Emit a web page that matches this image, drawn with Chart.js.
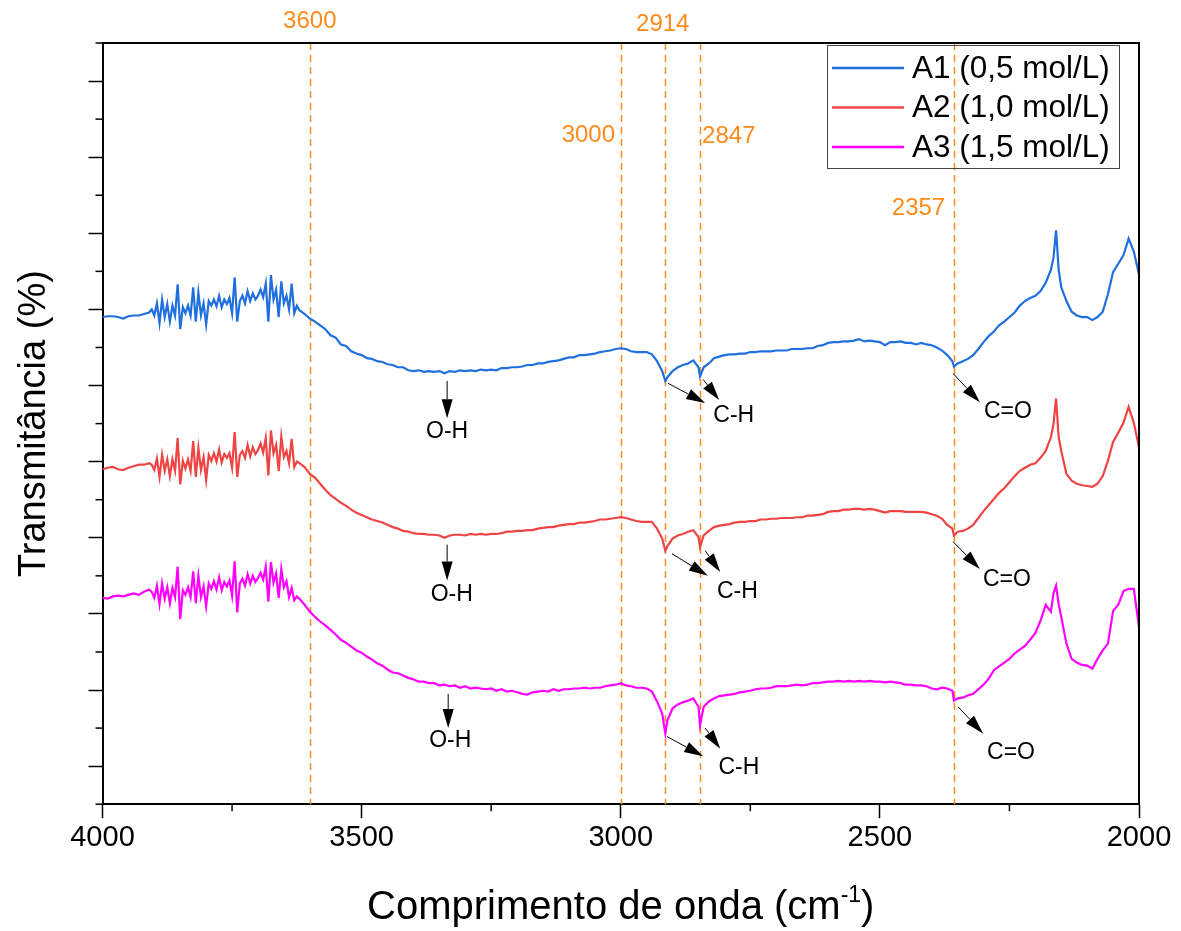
<!DOCTYPE html>
<html>
<head>
<meta charset="utf-8">
<title>FTIR - Transmitancia</title>
<script src="https://cdn.jsdelivr.net/npm/chart.js@4.4.1/dist/chart.umd.min.js"></script>
<style>
  html, body { margin: 0; padding: 0; background: #ffffff; }
</style>
</head>
<body>
<canvas id="graficoFTIR" width="1181" height="931"></canvas>
<script>
// numero de onda (cm-1)
var numeroOnda = [
  4000,3990,3980,3970,3960,3950,3940,3930,3920,3910,
  3905,3900,3895,3890,3885,3880,3875,3870,3865,3860,
  3855,3850,3845,3840,3835,3830,3825,3820,3815,3810,
  3805,3800,3795,3790,3785,3780,3775,3770,3765,3760,
  3755,3750,3745,3740,3735,3730,3725,3720,3715,3710,
  3705,3700,3695,3690,3685,3680,3675,3670,3665,3660,
  3655,3650,3645,3640,3635,3630,3625,3620,3610,3600,
  3590,3580,3570,3560,3550,3540,3530,3520,3510,3500,
  3490,3480,3470,3460,3450,3440,3430,3420,3410,3400,
  3390,3380,3370,3360,3350,3340,3330,3320,3310,3300,
  3290,3280,3270,3260,3250,3240,3230,3220,3210,3200,
  3190,3180,3170,3160,3150,3140,3130,3120,3110,3100,
  3090,3080,3070,3060,3050,3040,3030,3020,3010,3000,
  2990,2980,2970,2960,2950,2940,2930,2920,2914,2910,
  2900,2890,2880,2870,2860,2850,2847,2840,2830,2820,
  2810,2800,2790,2780,2770,2760,2750,2740,2730,2720,
  2710,2700,2690,2680,2670,2660,2650,2640,2630,2620,
  2610,2600,2590,2580,2570,2560,2550,2540,2530,2520,
  2510,2500,2490,2480,2470,2460,2450,2440,2430,2420,
  2410,2400,2390,2380,2370,2360,2357,2350,2340,2330,
  2320,2310,2300,2290,2280,2270,2260,2250,2240,2230,
  2220,2210,2200,2190,2180,2170,2165,2160,2155,2150,
  2140,2130,2120,2110,2100,2090,2080,2070,2060,2050,
  2040,2030,2020,2010,2000
];

// A1 (0,5 mol/L)
var serieA1 = [
  64.0,64.1,64.1,64.0,63.8,64.1,64.2,64.2,64.4,64.6,
  65.0,64.2,65.8,63.2,66.3,64.0,65.7,63.4,65.5,64.2,
  68.3,62.4,65.3,64.5,65.5,64.2,67.9,63.4,67.2,64.2,
  65.8,63.0,66.1,65.5,66.3,65.4,66.8,65.3,66.3,65.7,
  66.5,64.5,69.2,63.4,66.1,66.8,65.8,67.4,66.1,67.1,
  66.3,66.8,67.6,66.6,68.4,63.4,69.5,66.3,67.6,64.0,
  68.7,65.8,66.8,65.0,68.4,64.5,65.5,64.9,64.4,63.8,
  63.4,62.9,62.4,61.6,61.3,60.4,60.2,59.5,59.2,59.0,
  58.6,58.5,58.2,58.1,57.8,57.7,57.4,57.4,57.0,56.9,
  57.0,56.8,56.9,56.8,56.9,56.6,56.9,56.8,57.0,56.9,
  57.0,56.9,57.1,57.0,57.1,57.0,57.3,57.3,57.4,57.4,
  57.5,57.7,57.7,57.9,57.9,58.1,58.2,58.3,58.5,58.7,
  58.7,59.0,59.0,59.1,59.2,59.4,59.5,59.6,59.8,59.9,
  59.8,59.5,59.4,59.4,59.4,59.1,58.2,56.9,55.6,56.1,
  56.9,57.4,57.7,57.9,58.3,57.4,56.2,57.4,57.9,58.6,
  58.8,59.0,59.1,59.1,59.2,59.2,59.4,59.4,59.5,59.5,
  59.5,59.6,59.6,59.6,59.8,59.8,59.8,59.9,59.9,60.2,
  60.3,60.6,60.7,60.7,60.8,60.8,60.9,61.1,60.8,60.9,
  60.8,60.7,60.3,60.7,60.7,60.8,60.6,60.6,60.4,60.6,
  60.4,60.3,60.0,59.6,59.0,58.2,57.5,57.9,58.2,58.5,
  59.0,59.8,60.7,61.5,62.1,62.9,63.4,64.0,64.6,65.5,
  66.1,66.5,66.8,67.4,68.5,70.2,71.8,75.4,70.2,67.9,
  66.1,64.7,64.2,64.0,64.0,63.6,64.0,64.7,67.0,69.9,
  71.0,72.1,74.3,72.6,69.6
];

// A2 (1,0 mol/L)
var serieA2 = [
  44.0,44.2,44.3,44.0,43.9,44.2,44.4,44.6,44.6,44.8,
  44.6,43.9,45.4,43.0,45.9,43.8,45.3,43.1,45.3,43.8,
  48.1,42.0,45.1,44.1,45.3,43.8,47.7,43.0,46.8,43.9,
  45.6,42.6,45.9,45.1,46.1,45.0,46.6,44.9,46.0,45.5,
  46.1,44.2,48.9,43.0,45.9,46.4,45.5,47.2,45.7,46.9,
  46.0,46.5,47.4,46.2,48.1,43.2,49.1,46.1,47.2,43.8,
  48.3,45.6,46.4,44.8,48.0,44.3,45.0,44.8,44.3,43.4,
  42.9,42.1,41.3,40.6,40.1,39.6,39.2,38.7,38.3,38.0,
  37.7,37.4,37.2,37.0,36.7,36.4,36.2,35.9,35.8,35.6,
  35.5,35.5,35.4,35.4,35.3,35.0,35.3,35.4,35.4,35.3,
  35.5,35.4,35.5,35.4,35.5,35.5,35.6,35.8,35.8,35.9,
  35.9,36.0,36.0,36.2,36.3,36.4,36.4,36.6,36.7,36.8,
  36.8,37.0,37.0,37.1,37.2,37.4,37.4,37.5,37.6,37.7,
  37.6,37.4,37.2,37.1,37.1,37.1,36.2,34.9,33.3,33.9,
  34.9,35.3,35.5,35.8,36.0,35.1,33.8,35.3,35.9,36.4,
  36.6,36.7,36.8,37.0,37.1,37.1,37.2,37.2,37.4,37.4,
  37.5,37.5,37.6,37.6,37.6,37.7,37.7,37.9,37.9,38.0,
  38.1,38.4,38.5,38.5,38.7,38.7,38.8,38.8,38.7,38.8,
  38.7,38.5,38.3,38.5,38.5,38.5,38.4,38.4,38.4,38.4,
  38.3,38.1,37.9,37.5,36.7,36.2,35.3,35.8,35.9,36.2,
  36.7,37.6,38.5,39.3,40.1,40.9,41.5,42.3,43.1,43.8,
  44.2,44.6,44.8,45.5,46.4,48.2,49.9,53.3,48.2,46.4,
  43.4,42.5,42.1,41.9,41.8,41.7,42.1,43.1,45.1,47.6,
  48.8,50.1,52.2,50.1,46.9
];

// A3 (1,5 mol/L)
var serieA3 = [
  27.1,27.0,27.3,27.4,27.3,27.5,27.7,27.5,27.9,28.2,
  27.9,27.1,28.7,26.3,29.0,27.0,28.5,26.4,28.4,27.2,
  31.2,24.3,28.1,27.5,28.5,27.2,30.6,26.4,30.0,27.2,
  28.6,26.0,29.0,28.3,29.3,28.2,29.8,28.1,29.2,28.6,
  29.4,27.4,31.9,25.2,29.0,29.6,28.7,30.2,29.0,30.0,
  29.2,29.7,30.4,29.5,31.2,26.6,31.8,29.1,30.3,27.1,
  30.9,28.5,29.3,27.2,28.4,26.8,27.3,27.0,26.2,25.3,
  24.6,24.0,23.5,22.9,22.3,21.6,21.2,20.7,20.2,19.9,
  19.4,19.0,18.5,18.2,17.7,17.3,17.2,16.9,16.6,16.4,
  16.1,16.1,15.9,15.9,15.6,15.7,15.5,15.6,15.3,15.5,
  15.2,15.3,15.2,15.1,15.2,14.9,15.1,14.8,14.9,14.7,
  14.5,14.4,14.7,14.8,14.9,14.8,15.1,14.9,15.1,15.1,
  15.2,15.2,15.3,15.2,15.3,15.3,15.5,15.6,15.7,15.9,
  15.6,15.5,15.3,15.3,15.2,14.8,13.5,11.9,9.3,11.0,
  12.6,13.1,13.4,13.6,13.9,12.8,10.4,12.8,13.5,13.9,
  14.2,14.3,14.4,14.5,14.7,14.8,14.9,15.1,15.2,15.2,
  15.3,15.5,15.5,15.5,15.6,15.7,15.6,15.7,15.9,15.9,
  16.0,16.1,16.1,16.2,16.1,16.2,16.1,16.2,16.1,16.2,
  16.1,16.1,16.0,16.1,16.0,15.9,15.7,15.7,15.6,15.6,
  15.5,15.2,15.1,15.3,15.2,14.9,13.6,13.9,14.0,14.3,
  14.5,15.1,15.7,16.5,17.6,18.1,18.6,19.1,19.8,20.3,
  20.8,21.6,22.5,24.1,26.2,25.3,27.7,28.7,26.3,24.6,
  21.1,19.1,18.6,18.3,18.2,17.8,19.1,20.2,21.1,25.4,
  26.2,28.0,28.3,28.3,23.3
];

var nomesSeries = ["A1 (0,5 mol/L)", "A2 (1,0 mol/L)", "A3 (1,5 mol/L)"];
var coresSeries = ["#1f6fdf", "#f04444", "#ff00ff"];

var ticksX = [4000, 3500, 3000, 2500, 2000];
var ticksXMenores = [3750, 3250, 2750, 2250];
var ticksY = [5, 15, 25, 35, 45, 55, 65, 75, 85, 95];
var ticksYMenores = [0, 10, 20, 30, 40, 50, 60, 70, 80, 90, 100];

// linhas de referencia (cm-1)
var linhasRef = [3600, 3000, 2914, 2847, 2357];

// anotacoes em coordenadas do grafico (numero de onda, transmitancia)
var rotulosRef = [
  { texto: "3600", em: [3600, 102.8], alinhar: "center" },
  { texto: "3000", em: [3011, 87.9], alinhar: "right" },
  { texto: "2914", em: [2919, 102.5], alinhar: "center" },
  { texto: "2847", em: [2843, 87.7], alinhar: "left" },
  { texto: "2357", em: [2374, 78.3], alinhar: "right" }
];

var setas = [
  { de: [3335, 55.6], ate: [3335, 50.7] },
  { de: [3335, 34.1], ate: [3335, 29.4] },
  { de: [3333, 14.5], ate: [3333, 10.0] },
  { de: [2909, 55.3], ate: [2837, 52.7] },
  { de: [2841, 55.8], ate: [2810, 53.1] },
  { de: [2901, 32.9], ate: [2832, 30.0] },
  { de: [2837, 33.3], ate: [2808, 30.5] },
  { de: [2911, 8.9], ate: [2841, 6.3] },
  { de: [2837, 10.0], ate: [2808, 7.3] },
  { de: [2359, 56.6], ate: [2307, 52.8] },
  { de: [2359, 34.5], ate: [2307, 30.9] },
  { de: [2349, 12.8], ate: [2301, 9.3] }
];

var rotulosGrupos = [
  { texto: "O-H", em: [3335, 48.9] },
  { texto: "O-H", em: [3326, 27.5] },
  { texto: "O-H", em: [3329, 8.3] },
  { texto: "C-H", em: [2782, 51.0] },
  { texto: "C-H", em: [2775, 27.9] },
  { texto: "C-H", em: [2772, 4.8] },
  { texto: "C=O", em: [2253, 51.6] },
  { texto: "C=O", em: [2255, 29.5] },
  { texto: "C=O", em: [2247, 6.8] }
];

var FONTE = "'Liberation Sans', Arial, sans-serif";
var LARANJA = "#ff8a1c";

function montarPontos(valores) {
  var pontos = [];
  for (var i = 0; i < numeroOnda.length; i++) {
    pontos.push({ x: numeroOnda[i], y: valores[i] });
  }
  return pontos;
}

function desenharSeta(c, x1, y1, x2, y2) {
  var ang = Math.atan2(y2 - y1, x2 - x1);
  var comp = 19, larg = 5.5;
  var bx = x2 - comp * Math.cos(ang);
  var by = y2 - comp * Math.sin(ang);
  c.beginPath();
  c.moveTo(x1, y1);
  c.lineTo(bx, by);
  c.stroke();
  c.beginPath();
  c.moveTo(x2, y2);
  c.lineTo(bx + larg * Math.sin(ang), by - larg * Math.cos(ang));
  c.lineTo(bx - larg * Math.sin(ang), by + larg * Math.cos(ang));
  c.closePath();
  c.fill();
}

var pluginExtras = {
  id: "extrasFTIR",
  beforeDatasetsDraw: function (chart) {
    var c = chart.ctx, a = chart.chartArea, sx = chart.scales.x;
    c.save();
    c.strokeStyle = LARANJA;
    c.lineWidth = 1.5;
    c.setLineDash([7, 5]);
    for (var i = 0; i < linhasRef.length; i++) {
      var px = Math.round(sx.getPixelForValue(linhasRef[i])) + 0.5;
      c.beginPath();
      c.moveTo(px, a.top);
      c.lineTo(px, a.bottom);
      c.stroke();
    }
    c.restore();
  },
  afterDatasetsDraw: function (chart) {
    var c = chart.ctx, a = chart.chartArea;
    var sx = chart.scales.x, sy = chart.scales.y;
    var i;
    c.save();

    // moldura (topo e direita)
    c.strokeStyle = "#000";
    c.lineWidth = 2;
    c.beginPath();
    c.moveTo(a.left, a.top);
    c.lineTo(a.right, a.top);
    c.lineTo(a.right, a.bottom);
    c.stroke();

    // ticks menores
    c.lineWidth = 1.5;
    for (i = 0; i < ticksXMenores.length; i++) {
      var tx = sx.getPixelForValue(ticksXMenores[i]);
      c.beginPath();
      c.moveTo(tx, a.bottom);
      c.lineTo(tx, a.bottom + 7);
      c.stroke();
    }
    for (i = 0; i < ticksYMenores.length; i++) {
      var ty = sy.getPixelForValue(ticksYMenores[i]);
      c.beginPath();
      c.moveTo(a.left - 7, ty);
      c.lineTo(a.left, ty);
      c.stroke();
    }

    // setas
    c.strokeStyle = "#000";
    c.fillStyle = "#000";
    c.lineWidth = 1;
    for (i = 0; i < setas.length; i++) {
      var s = setas[i];
      desenharSeta(c,
        sx.getPixelForValue(s.de[0]), sy.getPixelForValue(s.de[1]),
        sx.getPixelForValue(s.ate[0]), sy.getPixelForValue(s.ate[1]));
    }

    // rotulos dos grupos
    c.font = "23px " + FONTE;
    c.textAlign = "center";
    c.textBaseline = "middle";
    for (i = 0; i < rotulosGrupos.length; i++) {
      var r = rotulosGrupos[i];
      c.fillText(r.texto, sx.getPixelForValue(r.em[0]), sy.getPixelForValue(r.em[1]));
    }

    // rotulos das linhas de referencia
    c.fillStyle = LARANJA;
    c.font = "24px " + FONTE;
    for (i = 0; i < rotulosRef.length; i++) {
      var rr = rotulosRef[i];
      c.textAlign = rr.alinhar;
      c.fillText(rr.texto, sx.getPixelForValue(rr.em[0]), sy.getPixelForValue(rr.em[1]));
    }

    // legenda
    var lx = a.right - 312, ly = a.top + 2;
    c.strokeStyle = "#444";
    c.lineWidth = 1;
    c.strokeRect(lx + 0.5, ly + 0.5, 292, 123);
    c.font = "31.5px " + FONTE;
    c.textAlign = "left";
    c.textBaseline = "middle";
    var dados = chart.data.datasets;
    for (i = 0; i < dados.length; i++) {
      var yy = ly + 23 + i * 39.5;
      c.strokeStyle = dados[i].borderColor;
      c.lineWidth = 2.5;
      c.beginPath();
      c.moveTo(lx + 5, yy);
      c.lineTo(lx + 77, yy);
      c.stroke();
      c.fillStyle = "#000";
      c.fillText(dados[i].label, lx + 85, yy + 1);
    }

    // titulo eixo y
    c.fillStyle = "#000";
    c.font = "38px " + FONTE;
    c.textAlign = "center";
    c.textBaseline = "middle";
    c.save();
    c.translate(35, (a.top + a.bottom) / 2);
    c.rotate(-Math.PI / 2);
    c.fillText("Transmitância (%)", 0, 0);
    c.restore();

    // titulo eixo x com expoente
    var t1 = "Comprimento de onda (cm", t2 = "-1", t3 = ")";
    c.font = "40px " + FONTE;
    var w1 = c.measureText(t1).width, w3 = c.measureText(t3).width;
    c.font = "23px " + FONTE;
    var w2 = c.measureText(t2).width;
    var total = w1 + w2 + w3;
    var x0 = (a.left + a.right) / 2 - total / 2;
    var yb = 919;
    c.textAlign = "left";
    c.textBaseline = "alphabetic";
    c.font = "40px " + FONTE;
    c.fillText(t1, x0, yb);
    c.font = "23px " + FONTE;
    c.fillText(t2, x0 + w1, yb - 17);
    c.font = "40px " + FONTE;
    c.fillText(t3, x0 + w1 + w2, yb);

    c.restore();
  }
};

var ctx = document.getElementById("graficoFTIR").getContext("2d");

new Chart(ctx, {
  type: "line",
  data: {
    datasets: [
      { label: nomesSeries[0], data: montarPontos(serieA1), borderColor: coresSeries[0], borderWidth: 2.2, pointRadius: 0, tension: 0, fill: false },
      { label: nomesSeries[1], data: montarPontos(serieA2), borderColor: coresSeries[1], borderWidth: 2.2, pointRadius: 0, tension: 0, fill: false },
      { label: nomesSeries[2], data: montarPontos(serieA3), borderColor: coresSeries[2], borderWidth: 2.2, pointRadius: 0, tension: 0, fill: false }
    ]
  },
  options: {
    responsive: false,
    animation: false,
    devicePixelRatio: 1,
    layout: { padding: { left: 88.5, top: 43, right: 42, bottom: 74 } },
    plugins: {
      legend: { display: false },
      tooltip: { enabled: false }
    },
    scales: {
      x: {
        type: "linear",
        min: 2000,
        max: 4000,
        reverse: true,
        afterBuildTicks: function (escala) {
          escala.ticks = ticksX.map(function (v) { return { value: v }; });
        },
        ticks: {
          color: "#000",
          font: { family: FONTE, size: 29 },
          padding: 2,
          maxRotation: 0,
          autoSkip: false,
          callback: function (v) { return String(v); }
        },
        grid: { drawOnChartArea: false, drawTicks: true, tickLength: 14, tickWidth: 1.5, tickColor: "#000" },
        border: { display: true, color: "#000", width: 2 }
      },
      y: {
        min: 0,
        max: 100,
        afterBuildTicks: function (escala) {
          escala.ticks = ticksY.map(function (v) { return { value: v }; });
        },
        ticks: { display: false },
        grid: { drawOnChartArea: false, drawTicks: true, tickLength: 14, tickWidth: 1.5, tickColor: "#000" },
        border: { display: true, color: "#000", width: 2 }
      }
    }
  },
  plugins: [pluginExtras]
});
</script>
</body>
</html>
